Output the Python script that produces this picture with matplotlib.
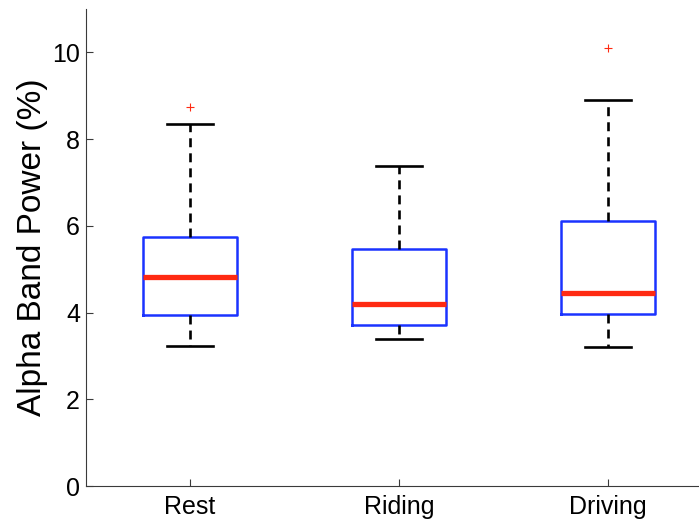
import matplotlib
matplotlib.use("Agg")
import matplotlib.pyplot as plt

plt.rcParams['font.family'] = ['Liberation Sans', 'DejaVu Sans']

conditions = ["Rest", "Riding", "Driving"]
q1 = [3.94, 3.71, 3.96]
medians = [4.83, 4.20, 4.46]
q3 = [5.75, 5.47, 6.12]
whisker_low = [3.23, 3.40, 3.21]
whisker_high = [8.34, 7.38, 8.90]
outliers = [[8.73], [], [10.09]]

stats = []
for i, name in enumerate(conditions):
    stats.append(dict(label=name, q1=q1[i], med=medians[i], q3=q3[i],
                      whislo=whisker_low[i], whishi=whisker_high[i],
                      fliers=outliers[i]))

fig = plt.figure(figsize=(6.99, 5.21), dpi=100)
ax = fig.add_axes([85.5 / 699, 35 / 521, 627 / 699, 477 / 521])

ax.bxp(stats, positions=[1, 2, 3], widths=0.45, capwidths=0.22,
       showfliers=True,
       boxprops=dict(color='#1a33ff', linewidth=1.8),
       medianprops=dict(color='#ff2a12', linewidth=3.8, solid_capstyle='butt'),
       whiskerprops=dict(color='black', linewidth=1.9, linestyle=(0, (3.4, 2.3))),
       capprops=dict(color='black', linewidth=1.9),
       flierprops=dict(marker='+', markeredgecolor='#ff2a12', markersize=6,
                       markeredgewidth=0.8, linestyle='none'))

ax.set_xlim(0.5, 3.5)
ax.set_ylim(0, 11)
ax.set_yticks([0, 2, 4, 6, 8, 10])
ax.set_xticks([1, 2, 3])
ax.set_xticklabels(conditions)

for side in ('top', 'right'):
    ax.spines[side].set_visible(False)
for side in ('left', 'bottom'):
    ax.spines[side].set_color('#3a3a3a')
    ax.spines[side].set_linewidth(0.8)

ax.tick_params(axis='both', direction='in', length=5, width=0.8,
               color='#3a3a3a', labelsize=18)
ax.tick_params(axis='x', pad=6.8)
ax.tick_params(axis='y', pad=4)

ax.set_ylabel("Alpha Band Power (%)", fontsize=24, labelpad=3)

fig.savefig("out.png", dpi=100)
